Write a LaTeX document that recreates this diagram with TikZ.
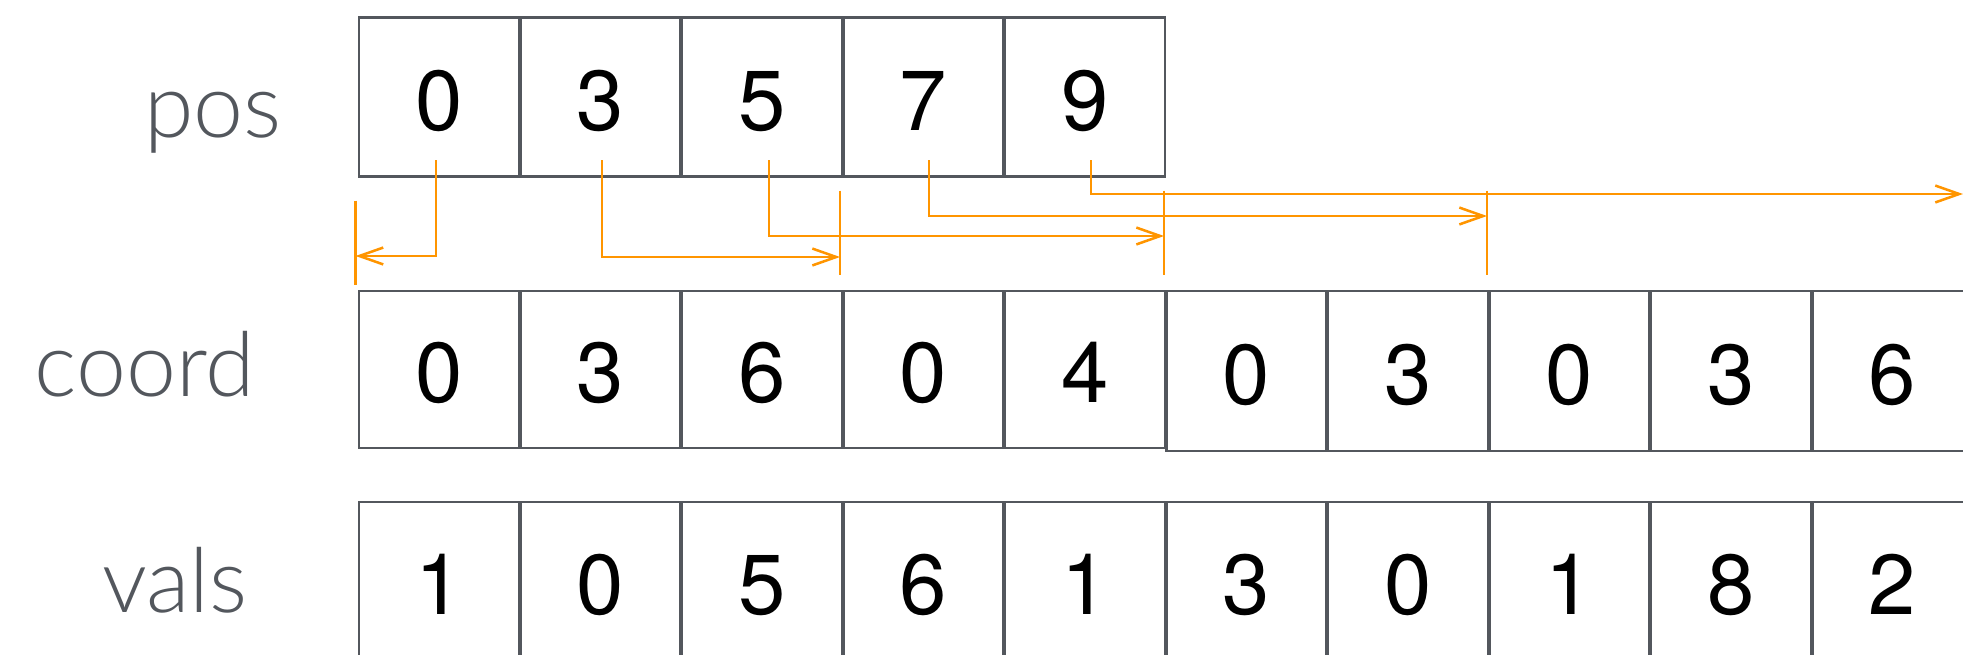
\documentclass[tikz,border=0pt]{standalone}
\usepackage{fontspec}
\setmainfont{TeX Gyre Heros}
\newfontfamily\lightfont{Lato Light}
\usetikzlibrary{positioning,calc,arrows.meta}
\definecolor{CellGray}{RGB}{83,87,93}
\definecolor{PtrOrange}{RGB}{255,149,0}

\begin{document}
\begin{tikzpicture}[
    x=0.01cm, y=-0.01cm,
    cell/.style={rectangle,draw=CellGray,line width=0.8pt,inner sep=0pt,
        minimum width=1.6cm,minimum height=1.59cm,
        text height=18.8pt,text depth=0pt,
        font=\fontsize{24.2pt}{29pt}\selectfont},
    lbl/.style={anchor=base,inner sep=0pt,text=CellGray,
        font=\lightfont\fontsize{25.5pt}{30pt}\selectfont},
    tick/.style={draw=PtrOrange,line width=0.72pt},
    ptr/.style={draw=PtrOrange,line width=0.72pt,->,
        >={Straight Barb[length=6.8pt,width=4.8pt]}}
]
\useasboundingbox (0,0) rectangle (1963,655);

% row labels
\node[lbl] (lpos) at (213,138) {pos};
\node[lbl] (lcoord) at (145,397) {coord};
\node[lbl] (lvals) at (175,613) {vals};

% pos
\node[cell] (p0) at (439,97) {0};
\node[cell] (p1) at (600.5,97) {3};
\node[cell] (p2) at (762,97) {5};
\node[cell] (p3) at (923.5,97) {7};
\node[cell] (p4) at (1085,97) {9};

% coord
\node[cell,minimum height=1.57cm] (c0) at (439,369.5) {0};
\node[cell,minimum height=1.57cm] (c1) at (600.5,369.5) {3};
\node[cell,minimum height=1.57cm] (c2) at (762,369.5) {6};
\node[cell,minimum height=1.57cm] (c3) at (923.5,369.5) {0};
\node[cell,minimum height=1.57cm] (c4) at (1085,369.5) {4};
\node[cell,minimum height=1.6cm] (c5) at (1246.5,371) {0};
\node[cell,minimum height=1.6cm] (c6) at (1408,371) {3};
\node[cell,minimum height=1.6cm] (c7) at (1569.5,371) {0};
\node[cell,minimum height=1.6cm] (c8) at (1731,371) {3};
\node[cell,minimum height=1.6cm] (c9) at (1892.5,371) {6};

% vals
\node[cell] (v0) at (439,581.5) {1};
\node[cell] (v1) at (600.5,581.5) {0};
\node[cell] (v2) at (762,581.5) {5};
\node[cell] (v3) at (923.5,581.5) {6};
\node[cell] (v4) at (1085,581.5) {1};
\node[cell] (v5) at (1246.5,581.5) {3};
\node[cell] (v6) at (1408,581.5) {0};
\node[cell] (v7) at (1569.5,581.5) {1};
\node[cell] (v8) at (1731,581.5) {8};
\node[cell] (v9) at (1892.5,581.5) {2};

% segment marks above coord
\coordinate (t0) at ($(c0.north west)+(-2,-89)$);
\coordinate (t3) at ($(c3.north west)+(-2,-99)$);
\coordinate (t5) at ($(c5.north west)+(-1,-99)$);
\coordinate (t7) at ($(c7.north west)+(-1,-99)$);
\coordinate (rim) at (1963,194);
\draw[tick] (t0) -- ++(0,84);
\draw[tick] (t3) -- ++(0,84);
\draw[tick] (t5) -- ++(0,84);
\draw[tick] (t7) -- ++(0,84);

% pointers
\draw[ptr] ($(p0.south)+(-3,-17.5)$) |- (t0 |- 0,256);
\draw[ptr] ($(p1.south)+(1.5,-17.5)$) |- (t3 |- 0,257);
\draw[ptr] ($(p2.south)+(7,-17.5)$) |- (t5 |- 0,236);
\draw[ptr] ($(p3.south)+(5.5,-17.5)$) |- (t7 |- 0,216);
\draw[ptr] ($(p4.south)+(6,-17.5)$) |- (rim);
\end{tikzpicture}
\end{document}
